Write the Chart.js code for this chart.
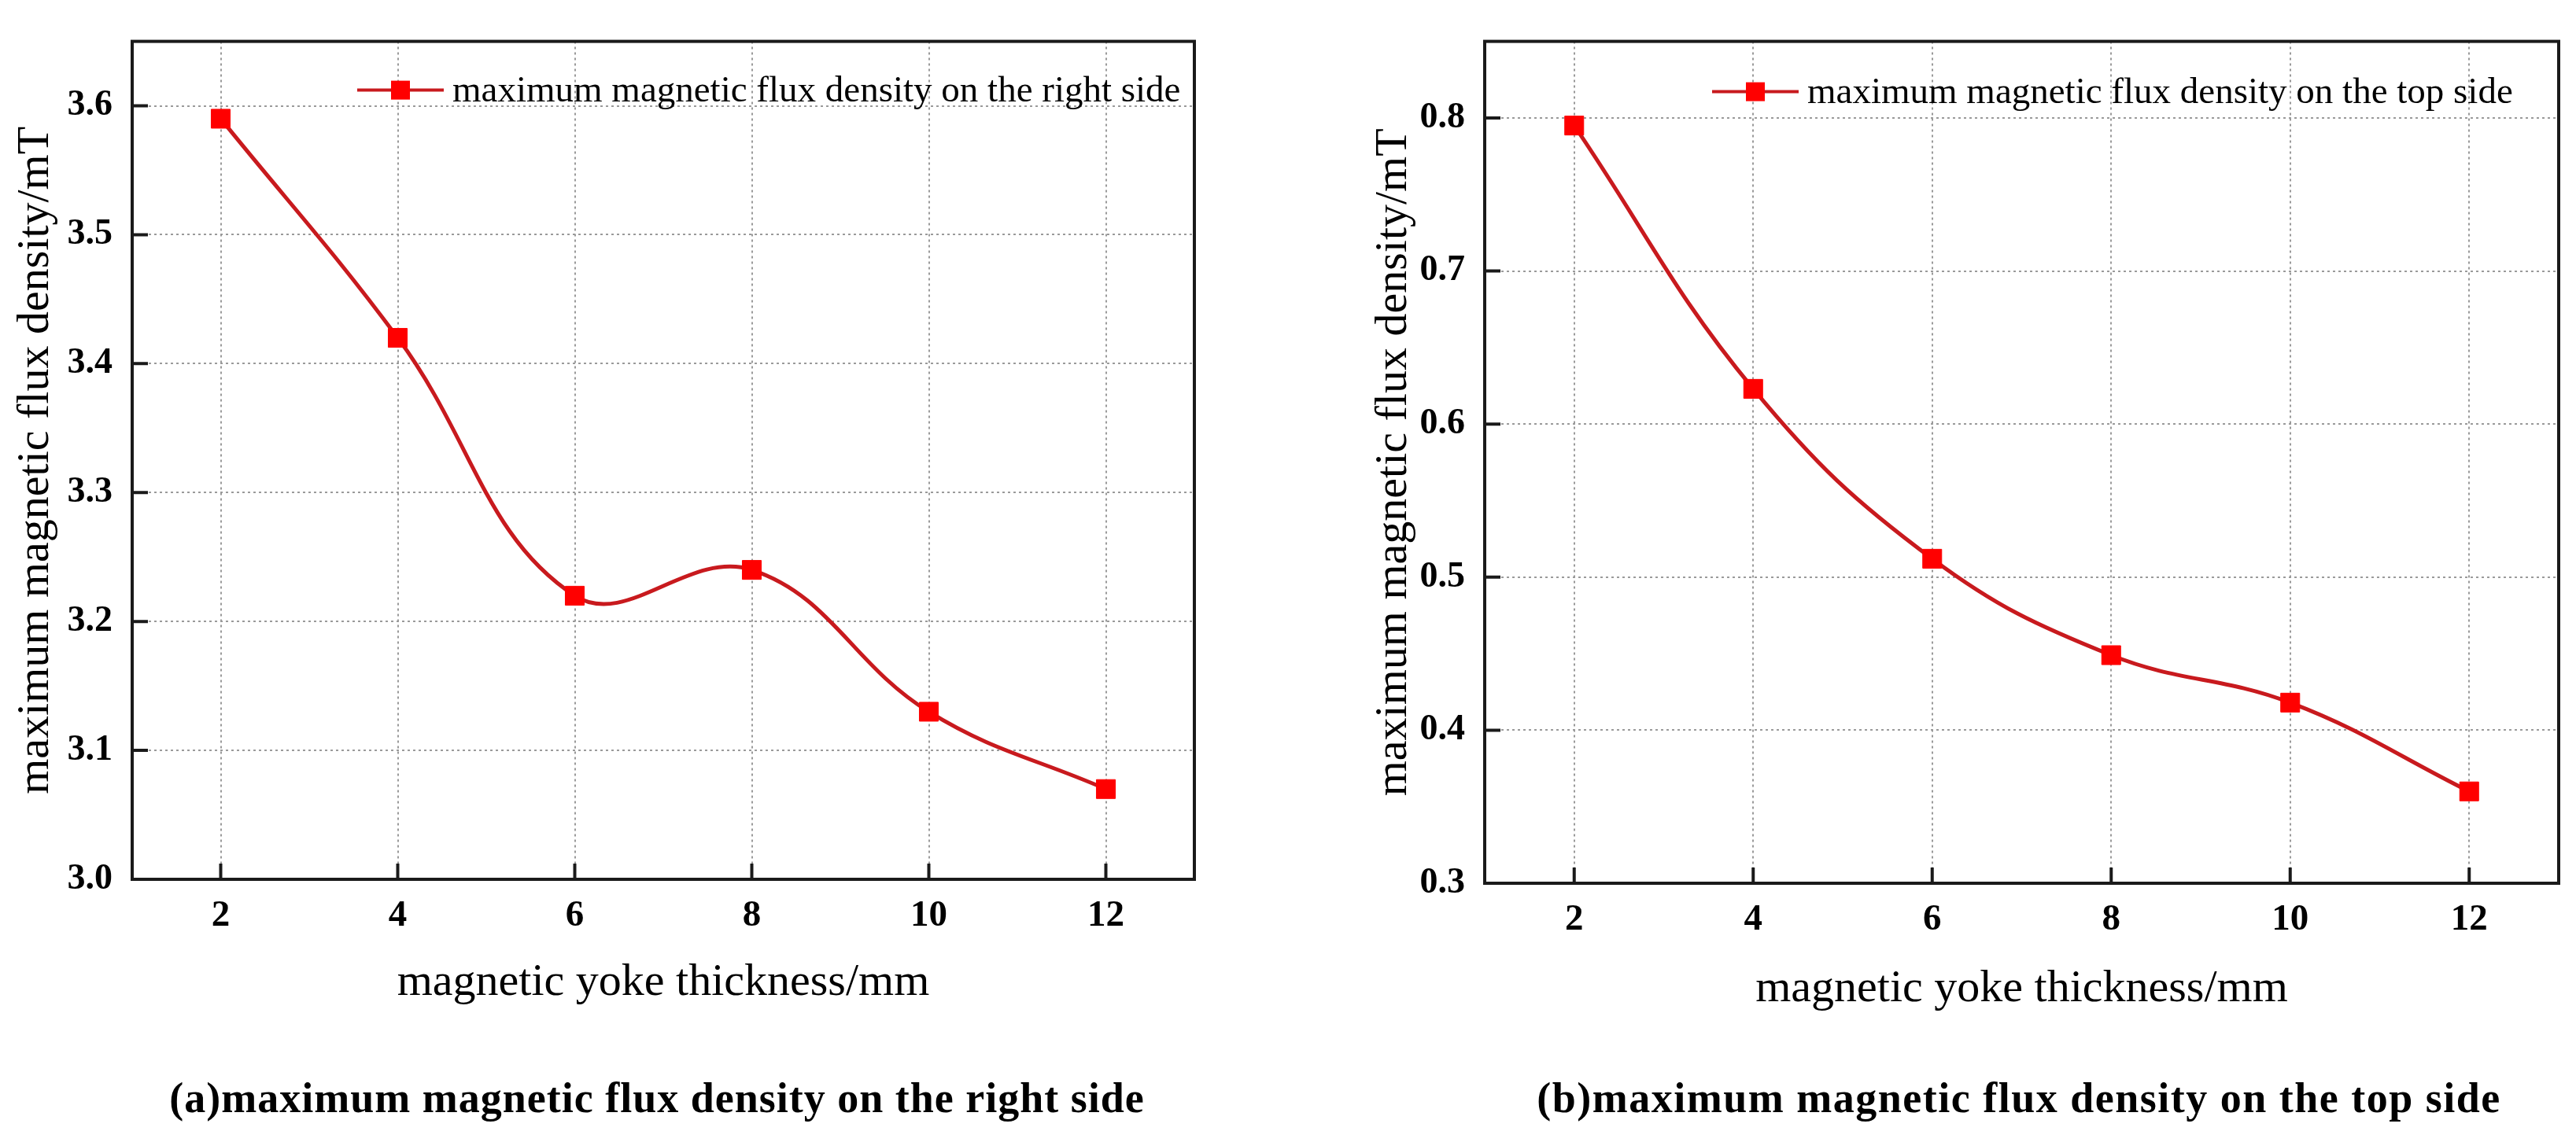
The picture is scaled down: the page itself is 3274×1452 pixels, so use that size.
<!DOCTYPE html>
<html>
<head>
<meta charset="utf-8">
<script src="https://cdn.jsdelivr.net/npm/chart.js@4"></script>
<style>
  html, body { margin: 0; padding: 0; background: #fff; }
  body { width: 3274px; height: 1452px; position: relative; overflow: hidden; }
  #c1 { position: absolute; left: 0; top: 0; }
  #c2 { position: absolute; left: 1640px; top: 0; }
</style>
</head>
<body>
<canvas id="c1" width="1640" height="1452"></canvas>
<canvas id="c2" width="1634" height="1452"></canvas>
<script>
// ---- data ----
const thickness = [2, 4, 6, 8, 10, 12];
const rightSide = [3.59, 3.42, 3.22, 3.24, 3.13, 3.07];
const topSide = [0.795, 0.623, 0.512, 0.449, 0.418, 0.360];
const xTicks = [2, 4, 6, 8, 10, 12];
const yTicksA = [3.0, 3.1, 3.2, 3.3, 3.4, 3.5, 3.6];
const yTicksB = [0.3, 0.4, 0.5, 0.6, 0.7, 0.8];
const labelA = 'maximum magnetic flux density on the right side';
const labelB = 'maximum magnetic flux density on the top side';
const captionA = '(a)maximum magnetic flux density on the right side';
const captionB = '(b)maximum magnetic flux density on the top side';
const xTitle = 'magnetic yoke thickness/mm';
const yTitle = 'maximum magnetic flux density/mT';

const SERIF = "'Liberation Serif', 'Times New Roman', serif";
const LINE_COLOR = '#c81a1e';
const MARK_COLOR = '#ff0000';
Chart.defaults.font.family = SERIF;
Chart.defaults.color = '#000';

const frame = {
  id: 'frame',
  afterDraw(chart, args, opts) {
    const ctx = chart.ctx, a = chart.chartArea;
    const xs = chart.scales.x, ys = chart.scales.y;
    ctx.save();
    ctx.strokeStyle = '#1a1a1a';
    ctx.lineWidth = 4;
    ctx.setLineDash([]);
    // inward ticks
    ctx.beginPath();
    xs.ticks.forEach(t => {
      const px = xs.getPixelForValue(t.value);
      ctx.moveTo(px, a.bottom);
      ctx.lineTo(px, a.bottom - 20);
    });
    ys.ticks.forEach(t => {
      const py = ys.getPixelForValue(t.value);
      ctx.moveTo(a.left, py);
      ctx.lineTo(a.left + 20, py);
    });
    ctx.stroke();
    ctx.strokeRect(a.left, a.top, a.right - a.left, a.bottom - a.top);
    // legend
    const ds = chart.data.datasets[0];
    const x0 = a.left + opts.dx, y0 = a.top + opts.dy;
    ctx.strokeStyle = ds.borderColor;
    ctx.lineWidth = 4;
    ctx.beginPath();
    ctx.moveTo(x0, y0);
    ctx.lineTo(x0 + 110, y0);
    ctx.stroke();
    ctx.fillStyle = MARK_COLOR;
    ctx.fillRect(x0 + 55 - 12, y0 - 12, 24, 24);
    ctx.fillStyle = '#000';
    ctx.font = '47px ' + SERIF;
    ctx.textAlign = 'left';
    ctx.textBaseline = 'middle';
    ctx.fillText(ds.label, x0 + 121, y0 + 2);
    // caption
    ctx.font = 'bold 54px ' + SERIF;
    ctx.textAlign = 'center';
    ctx.textBaseline = 'middle';
    try { ctx.letterSpacing = opts.ls + 'px'; } catch (e) {}
    ctx.fillText(opts.caption, opts.capX, opts.capY);
    ctx.restore();
  }
};

function makeChart(id, values, label, yTicks, yMin, yMax, cfg) {
  return new Chart(document.getElementById(id), {
    type: 'line',
    data: {
      datasets: [{
        label: label,
        data: thickness.map((x, i) => ({ x: x, y: values[i] })),
        borderColor: LINE_COLOR,
        borderWidth: 5,
        tension: 0.4,
        pointStyle: 'rect',
        pointRadius: 17,
        pointHoverRadius: 17,
        pointBackgroundColor: MARK_COLOR,
        pointBorderColor: MARK_COLOR,
        pointBorderWidth: 1,
        fill: false
      }]
    },
    options: {
      responsive: false,
      animation: false,
      devicePixelRatio: 1,
      layout: { padding: { top: cfg.top, right: cfg.right, left: 0, bottom: cfg.bottom } },
      plugins: {
        legend: { display: false },
        tooltip: { enabled: false },
        title: { display: false },
        frame: { dx: cfg.dx, dy: cfg.dy, caption: cfg.caption, capX: cfg.capX, capY: 1400, ls: cfg.ls }
      },
      scales: {
        x: {
          type: 'linear',
          min: 1, max: 13,
          afterBuildTicks: s => { s.ticks = xTicks.map(v => ({ value: v })); },
          afterFit: s => { s.height = cfg.xh; },
          ticks: {
            padding: 19,
            color: '#000',
            font: { family: SERIF, size: 47, weight: 'bold' },
            callback: v => String(v)
          },
          grid: { color: '#9a9a9a', lineWidth: 2, drawTicks: false },
          border: { display: false, dash: [3, 4] },
          title: {
            display: true, text: xTitle, color: '#000',
            font: { family: SERIF, size: 58, lineHeight: 1 },
            padding: { top: 0, bottom: 11 }
          }
        },
        y: {
          type: 'linear',
          min: yMin, max: yMax,
          afterBuildTicks: s => { s.ticks = yTicks.map(v => ({ value: v })); },
          afterFit: s => { s.width = cfg.yw; },
          ticks: {
            padding: 25,
            color: '#000',
            font: { family: SERIF, size: 46, weight: 'bold' },
            callback: v => Number(v).toFixed(1)
          },
          grid: { color: '#9a9a9a', lineWidth: 2, drawTicks: false },
          border: { display: false, dash: [3, 4] },
          title: {
            display: true, text: yTitle, color: '#000',
            font: { family: SERIF, size: 58, lineHeight: 1 },
            padding: { top: cfg.ytp, bottom: 0 }
          }
        }
      }
    },
    plugins: [frame]
  });
}

makeChart('c1', rightSide, labelA, yTicksA, 3.0, 3.65, {
  top: 31, right: 122, bottom: 162, yw: 168, ytp: 17, xh: 172,
  caption: captionA, capX: 835, ls: 1, dx: 286, dy: 62
});
makeChart('c2', topSide, labelB, yTicksB, 0.3, 0.85, {
  top: 24, right: 22, bottom: 154, yw: 247, ytp: 103, xh: 175,
  caption: captionB, capX: 926, ls: 1.5, dx: 289, dy: 64
});
</script>
</body>
</html>
